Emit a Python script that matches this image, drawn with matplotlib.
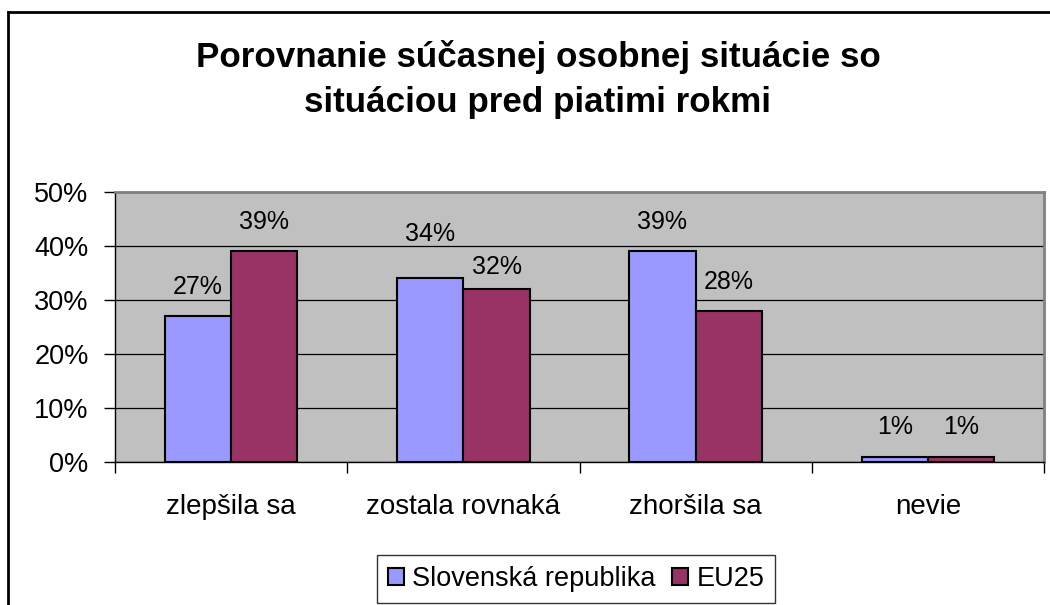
import matplotlib

matplotlib.use("Agg")
import matplotlib.pyplot as plt
import numpy as np
from matplotlib.lines import Line2D
from matplotlib.ticker import FuncFormatter

categories = ["zlepšila sa", "zostala rovnaká", "zhoršila sa", "nevie"]
sr_values = [27, 34, 39, 1]
eu_values = [39, 32, 28, 1]
series_names = ["Slovenská republika", "EU25"]
title_lines = ["Porovnanie súčasnej osobnej situácie so",
               "situáciou pred piatimi rokmi"]

plt.rcParams["font.family"] = ["Liberation Sans", "DejaVu Sans"]

fig = plt.figure(figsize=(10.5, 6.05), dpi=100)
ax = fig.add_axes([115 / 1050, 1 - 462 / 605, (1044 - 115) / 1050, (462 - 192) / 605])
ax.set_facecolor("#C0C0C0")

x = np.arange(len(categories))
w = 1 / 3.5
b1 = ax.bar(x - w / 2, sr_values, w, color="#9999FF", edgecolor="black", lw=1.5,
            label=series_names[0], zorder=3)
b2 = ax.bar(x + w / 2, eu_values, w, color="#993366", edgecolor="black", lw=1.5,
            label=series_names[1], zorder=3)

# label gap above bar top (points); Excel nudged a couple of them
sr_gaps = [16, 27, 16, 16]
eu_gaps = [16, 11, 16, 16]
for bars, vals, gaps in ((b1, sr_values, sr_gaps), (b2, eu_values, eu_gaps)):
    for rect, v, g in zip(bars, vals, gaps):
        ax.annotate(f"{v}%", (rect.get_x() + rect.get_width() / 2, rect.get_height()),
                    xytext=(0, g), textcoords="offset points",
                    ha="center", va="baseline", fontsize=18)

ax.set_xlim(-0.5, len(categories) - 0.5)
ax.set_ylim(0, 50)
ax.set_yticks(range(0, 51, 10))
ax.yaxis.set_major_formatter(FuncFormatter(lambda v, _: f"{v:.0f}%"))
ax.yaxis.grid(True, color="black", lw=0.9, zorder=1)
ax.set_axisbelow(True)

ax.set_xticks(np.arange(-0.5, len(categories), 1.0))
ax.set_xticklabels([])
ax.set_xticks(x, minor=True)
ax.set_xticklabels(categories, minor=True, fontsize=20)
ax.tick_params(axis="x", which="minor", length=0, pad=23)
ax.tick_params(axis="x", which="major", length=8, width=1, direction="out")
ax.tick_params(axis="y", length=8, width=1, pad=11, labelsize=19.5)

for side in ("top", "right"):
    ax.spines[side].set_color("#808080")
    ax.spines[side].set_linewidth(2)
for side in ("left", "bottom"):
    ax.spines[side].set_color("black")
    ax.spines[side].set_linewidth(1)

fig.text(538 / 1050, 1 - 67 / 605, title_lines[0], ha="center", va="baseline",
         fontsize=25.2, fontweight="bold")
fig.text(538 / 1050, 1 - 112 / 605, title_lines[1], ha="center", va="baseline",
         fontsize=25.2, fontweight="bold")

leg = fig.legend(loc="center", bbox_to_anchor=(576 / 1050, 1 - 579 / 605), ncol=2,
                 fontsize=19.5, frameon=True, fancybox=False, borderpad=0.4,
                 handlelength=0.6, handleheight=0.6, handletextpad=0.3,
                 columnspacing=0.6, borderaxespad=0)
leg.get_frame().set_edgecolor("black")
leg.get_frame().set_linewidth(1)

# outer chart frame (cropped on right and bottom)
fig.add_artist(Line2D([8 / 1050, 1.0], [1 - 12 / 605] * 2, color="black", lw=2,
                      transform=fig.transFigure))
fig.add_artist(Line2D([8 / 1050] * 2, [0.0, 1 - 12 / 605], color="black", lw=2,
                      transform=fig.transFigure))

fig.savefig("out.png", dpi=100, facecolor="white")
